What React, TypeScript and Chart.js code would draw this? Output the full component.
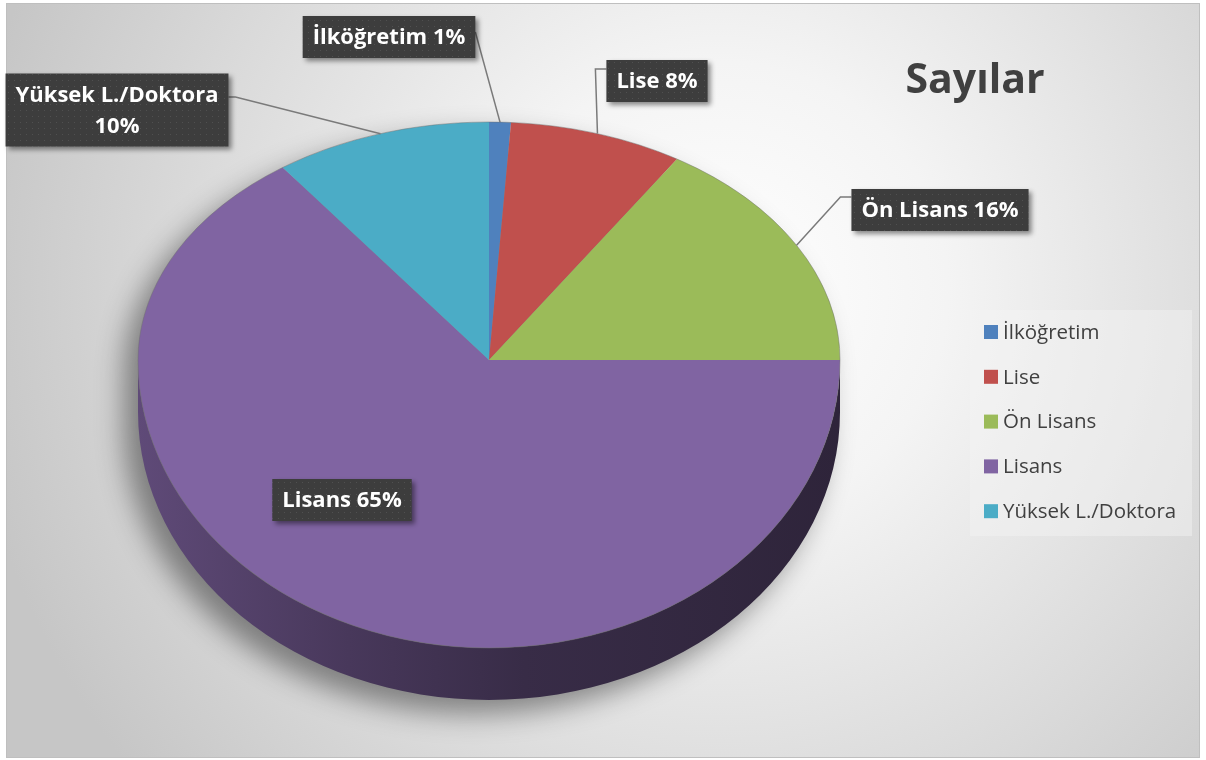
import React, { useEffect, useRef } from "react";
import { Chart, registerables } from "chart.js";

Chart.register(...registerables);

// ---- data ----
const categories = ["İlköğretim", "Lise", "Ön Lisans", "Lisans", "Yüksek L./Doktora"];
const shares = [1, 8, 16, 65, 10];
const sliceColors = ["#4F81BD", "#C0504D", "#9BBB59", "#8064A2", "#4BACC6"];
const chartTitle = "Sayılar";

// ---- layout / style ----
const W = 1206;
const H = 760;
const TILT_BACK = 238 / 351; // far half (perspective-compressed)
const TILT_FRONT = 288 / 351; // near half
const DEPTH = 52;
const FONT = "'Open Sans', 'Noto Sans', sans-serif";

type LabelLayout = { x: number; y: number; side: "left" | "right" | "none"; attachY: number; elbow: number; twoLine?: boolean };
const labelLayout: LabelLayout[] = [
  { x: 389, y: 37, side: "right", attachY: 32, elbow: 0 },
  { x: 657, y: 81, side: "left", attachY: 69, elbow: 11 },
  { x: 940, y: 210, side: "left", attachY: 197, elbow: 11 },
  { x: 342, y: 500, side: "none", attachY: 0, elbow: 0 },
  { x: 117, y: 110, side: "right", attachY: 97, elbow: 7, twoLine: true },
];

function shade(hex: string, f: number) {
  const n = parseInt(hex.slice(1), 16);
  const r = (n >> 16) & 255, g = (n >> 8) & 255, b = n & 255;
  return `rgb(${Math.round(r * f)},${Math.round(g * f)},${Math.round(b * f)})`;
}

let dotPattern: CanvasPattern | null = null;
function getPattern(ctx: CanvasRenderingContext2D) {
  if (dotPattern) return dotPattern;
  const c = document.createElement("canvas");
  c.width = 6; c.height = 6;
  const p = c.getContext("2d")!;
  p.fillStyle = "#3d3d3d";
  p.fillRect(0, 0, 6, 6);
  p.fillStyle = "#505050";
  p.fillRect(2, 2, 1, 1);
  dotPattern = ctx.createPattern(c, "repeat");
  return dotPattern;
}

function geom(chart: any) {
  const meta = chart.getDatasetMeta(0);
  const { x: cx, y: cy, outerRadius: rx } = meta.data[0].getProps(["x", "y", "outerRadius"], true);
  return { meta, cx, cy, rx, ryB: rx * TILT_BACK, ryF: rx * TILT_FRONT };
}

function applyTilt(ctx: CanvasRenderingContext2D, cx: number, cy: number, k: number) {
  ctx.translate(cx, cy);
  ctx.scale(1, k);
  ctx.translate(-cx, -cy);
}

const pie3d = {
  id: "pie3d",
  beforeDraw(chart: any) {
    const ctx: CanvasRenderingContext2D = chart.ctx;
    ctx.save();
    ctx.fillStyle = "#ffffff";
    ctx.fillRect(0, 0, W, H);
    const g = ctx.createRadialGradient(720, 290, 0, 720, 290, 760);
    g.addColorStop(0, "#ffffff");
    g.addColorStop(0.3, "#f4f4f4");
    g.addColorStop(0.7, "#dadada");
    g.addColorStop(1, "#c6c6c6");
    ctx.fillStyle = g;
    ctx.fillRect(6, 3, 1194, 755);
    ctx.strokeStyle = "#bfbfbf";
    ctx.lineWidth = 1;
    ctx.strokeRect(6.5, 3.5, 1193, 754);
    ctx.restore();
  },
  beforeDatasetsDraw(chart: any) {
    const ctx: CanvasRenderingContext2D = chart.ctx;
    const { meta, cx, cy, rx, ryB, ryF } = geom(chart);

    // soft drop shadow
    const OFF = 4000;
    ctx.save();
    ctx.shadowColor = "rgba(0,0,0,0.42)";
    ctx.shadowBlur = 28;
    ctx.shadowOffsetX = OFF - 14;
    ctx.shadowOffsetY = 14;
    ctx.translate(-OFF, 0);
    ctx.beginPath();
    ctx.ellipse(cx, cy, rx, ryB, 0, Math.PI, 2 * Math.PI);
    ctx.ellipse(cx, cy + DEPTH, rx, ryF, 0, 0, Math.PI);
    ctx.closePath();
    ctx.fillStyle = "#000";
    ctx.fill();
    ctx.restore();

    // extruded sides (front half only)
    meta.data.forEach((arc: any, i: number) => {
      const { startAngle, endAngle } = arc.getProps(["startAngle", "endAngle"], true);
      const a1 = Math.max(startAngle, 0);
      const a2 = Math.min(endAngle, Math.PI);
      if (a2 <= a1) return;
      const base = sliceColors[i];
      const lg = ctx.createLinearGradient(cx - rx, 0, cx + rx, 0);
      lg.addColorStop(0, shade(base, 0.74));
      lg.addColorStop(0.3, shade(base, 0.56));
      lg.addColorStop(0.55, shade(base, 0.44));
      lg.addColorStop(1, shade(base, 0.36));
      ctx.beginPath();
      ctx.ellipse(cx, cy, rx, ryF, 0, a1, a2, false);
      ctx.ellipse(cx, cy + DEPTH, rx, ryF, 0, a2, a1, true);
      ctx.closePath();
      ctx.fillStyle = lg;
      ctx.fill();
    });

    // far half of top face: drawn by Chart.js with this transform
    ctx.save();
    ctx.beginPath();
    ctx.rect(0, 0, W, cy);
    ctx.clip();
    applyTilt(ctx, cx, cy, TILT_BACK);
  },
  afterDatasetsDraw(chart: any) {
    const ctx: CanvasRenderingContext2D = chart.ctx;
    ctx.restore();
    const { meta, cx, cy, rx, ryB, ryF } = geom(chart);

    // near half of top face: same elements, other tilt
    ctx.save();
    ctx.beginPath();
    ctx.rect(0, cy, W, H - cy);
    ctx.clip();
    applyTilt(ctx, cx, cy, TILT_FRONT);
    meta.controller.draw();
    ctx.restore();

    // thin rim line on the top face
    ctx.save();
    ctx.strokeStyle = "rgba(110,110,110,0.45)";
    ctx.lineWidth = 1;
    ctx.beginPath();
    ctx.ellipse(cx, cy, rx, ryB, 0, Math.PI, 2 * Math.PI);
    ctx.stroke();
    ctx.beginPath();
    ctx.ellipse(cx, cy, rx, ryF, 0, 0, Math.PI);
    ctx.stroke();
    ctx.restore();

    // title
    ctx.save();
    ctx.font = `bold 41px ${FONT}`;
    ctx.fillStyle = "#404040";
    ctx.textAlign = "center";
    ctx.textBaseline = "alphabetic";
    ctx.fillText(chartTitle, 975, 93);
    ctx.restore();

    // legend
    ctx.save();
    ctx.fillStyle = "rgba(245,245,245,0.45)";
    ctx.fillRect(970, 310, 222, 226);
    const labels: string[] = chart.data.labels;
    const cols: string[] = chart.data.datasets[0].backgroundColor;
    ctx.font = `20.5px ${FONT}`;
    ctx.textBaseline = "middle";
    ctx.textAlign = "left";
    labels.forEach((lab, i) => {
      const yc = 332 + i * 44.8;
      ctx.fillStyle = cols[i];
      ctx.fillRect(984, yc - 7, 14, 14);
      ctx.fillStyle = "#404040";
      ctx.fillText(lab, 1003, yc + 1);
    });
    ctx.restore();

    // data labels with leader lines
    const values: number[] = chart.data.datasets[0].data;
    const total = values.reduce((a, b) => a + b, 0);
    meta.data.forEach((arc: any, i: number) => {
      const { startAngle, endAngle } = arc.getProps(["startAngle", "endAngle"], true);
      const mid = (startAngle + endAngle) / 2;
      const s = Math.sin(mid);
      const ax = cx + rx * Math.cos(mid);
      const ay = cy + (s < 0 ? ryB : ryF) * s;
      const L = labelLayout[i];
      const pct = `${Math.round((values[i] / total) * 100)}%`;
      const lines = L.twoLine ? [labels[i], pct] : [`${labels[i]} ${pct}`];
      ctx.save();
      ctx.font = `bold 22px ${FONT}`;
      const tw = Math.max(...lines.map((t) => ctx.measureText(t).width));
      const bw = tw + 20;
      const bh = lines.length * 31 + 11;
      const bx = L.x - bw / 2;
      const by = L.y - bh / 2;

      if (L.side !== "none") {
        const ex = L.side === "right" ? bx + bw : bx;
        const kx = L.side === "right" ? ex + L.elbow : ex - L.elbow;
        ctx.beginPath();
        ctx.moveTo(ex, L.attachY);
        ctx.lineTo(kx, L.attachY);
        ctx.lineTo(ax, ay);
        ctx.strokeStyle = "#7a7a7a";
        ctx.lineWidth = 1.5;
        ctx.stroke();
      }

      ctx.shadowColor = "rgba(0,0,0,0.45)";
      ctx.shadowBlur = 5;
      ctx.shadowOffsetX = 3;
      ctx.shadowOffsetY = 3;
      ctx.fillStyle = getPattern(ctx) || "#3f3f3f";
      ctx.fillRect(bx, by, bw, bh);
      ctx.shadowColor = "transparent";
      ctx.fillStyle = "#ffffff";
      ctx.textAlign = "center";
      ctx.textBaseline = "middle";
      lines.forEach((t, j) => {
        ctx.fillText(t, L.x, by + 5.5 + 15.5 + j * 31 + 1);
      });
      ctx.restore();
    });
  },
};

export default function App() {
  const ref = useRef<HTMLCanvasElement | null>(null);
  useEffect(() => {
    if (!ref.current) return;
    const chart = new Chart(ref.current, {
      type: "pie",
      data: {
        labels: categories,
        datasets: [
          {
            data: shares,
            backgroundColor: sliceColors,
            borderWidth: 0,
            clip: false as any,
          },
        ],
      },
      options: {
        responsive: false,
        animation: false,
        events: [],
        devicePixelRatio: 1,
        layout: { padding: { left: 138, right: 366, top: 9, bottom: 49 } },
        plugins: {
          legend: { display: false },
          tooltip: { enabled: false },
          title: { display: false },
        },
      },
      plugins: [pie3d],
    });
    return () => chart.destroy();
  }, []);
  return (
    <div style={{ position: "absolute", left: 0, top: 0, width: W, height: H }}>
      <canvas ref={ref} width={W} height={H} style={{ width: W, height: H, display: "block" }} />
    </div>
  );
}
